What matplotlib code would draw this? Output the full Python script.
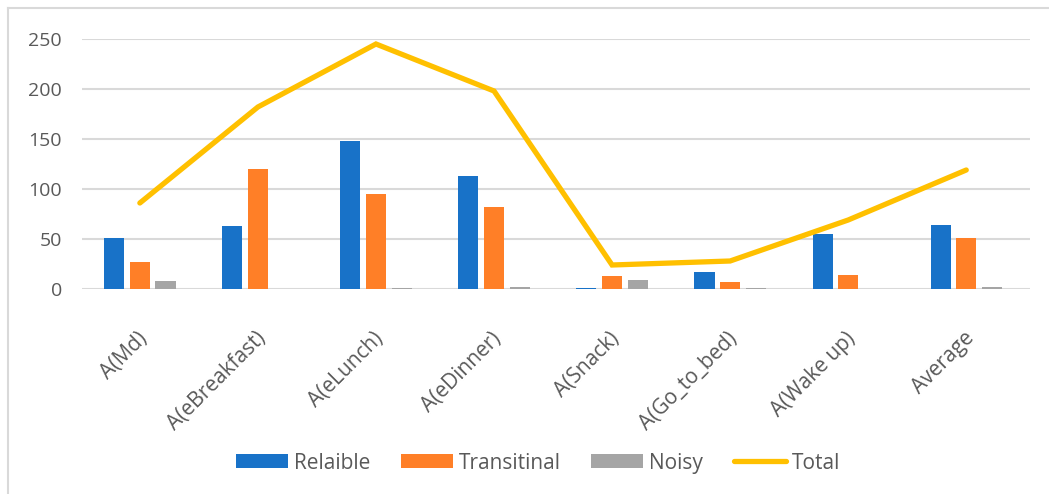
import matplotlib.pyplot as plt
import matplotlib.transforms as mtransforms
import numpy as np
from matplotlib.lines import Line2D

categories = ['A(Md)', 'A(eBreakfast)', 'A(eLunch)', 'A(eDinner)', 'A(Snack)',
              'A(Go_to_bed)', 'A(Wake up)', 'Average']
reliable = [51, 63, 148, 113, 1.5, 17, 55, 64]
transitional = [27, 120, 95, 82, 13, 7, 14, 51]
noisy = [8, 0, 1, 2, 9, 1, 0, 2]
total = [86, 182, 245, 198, 24, 28, 69, 119]

plt.rcParams['font.family'] = ['Open Sans', 'DejaVu Sans']
text_col = '#595959'

fig = plt.figure(figsize=(10.49, 4.94), dpi=100, facecolor='white')
ax = fig.add_axes([82 / 1049, 1 - 289 / 494, 948 / 1049, 250 / 494])

x = np.arange(len(categories))
w = 0.17
step = 0.217
b1 = ax.bar(x - step, reliable, w, color='#1872C8', label='Relaible', zorder=3)
b2 = ax.bar(x, transitional, w, color='#FF7F27', label='Transitinal', zorder=3)
b3 = ax.bar(x + step, noisy, w, color='#A5A5A5', label='Noisy', zorder=3)
ln, = ax.plot(x, total, color='#FFC000', lw=3.8, solid_capstyle='round',
              solid_joinstyle='miter', label='Total', zorder=4)

ax.set_xlim(-0.49, len(categories) - 0.46)
ax.set_ylim(0, 250)
ax.set_yticks(range(0, 251, 50))
ax.yaxis.grid(True, color='#D9D9D9', lw=1.5, zorder=0)
for s in ax.spines.values():
    s.set_visible(False)
ax.tick_params(length=0, labelcolor=text_col)
ax.tick_params(axis='y', pad=14.5, labelsize=14)
ax.set_xticks(x)
ax.set_xticklabels(categories, rotation=45, ha='right', va='top',
                   rotation_mode='anchor', fontsize=15)
ax.tick_params(axis='x', pad=28)
shift = mtransforms.ScaledTranslation(-3 / 100, 0, fig.dpi_scale_trans)
for lab in ax.get_xticklabels():
    lab.set_transform(lab.get_transform() + shift)

# legend order as in the original (bars first, line last)
ax.legend([b1, b2, b3, ln], ['Relaible', 'Transitinal', 'Noisy', 'Total'],
          loc='center', bbox_to_anchor=(0.481, -0.696), ncol=4, frameon=False,
          fontsize=15, labelcolor=text_col, handlelength=2.5,
          handleheight=0.63, handletextpad=0.3, columnspacing=1.45)

# chart border (light gray)
fig.add_artist(Line2D([8 / 1049, 8 / 1049], [0, 1 - 8 / 494], color='#D9D9D9', lw=1.5))
fig.add_artist(Line2D([8 / 1049, 1], [1 - 8 / 494, 1 - 8 / 494], color='#D9D9D9', lw=1.5))

fig.savefig('out.png', dpi=100, facecolor='white')
